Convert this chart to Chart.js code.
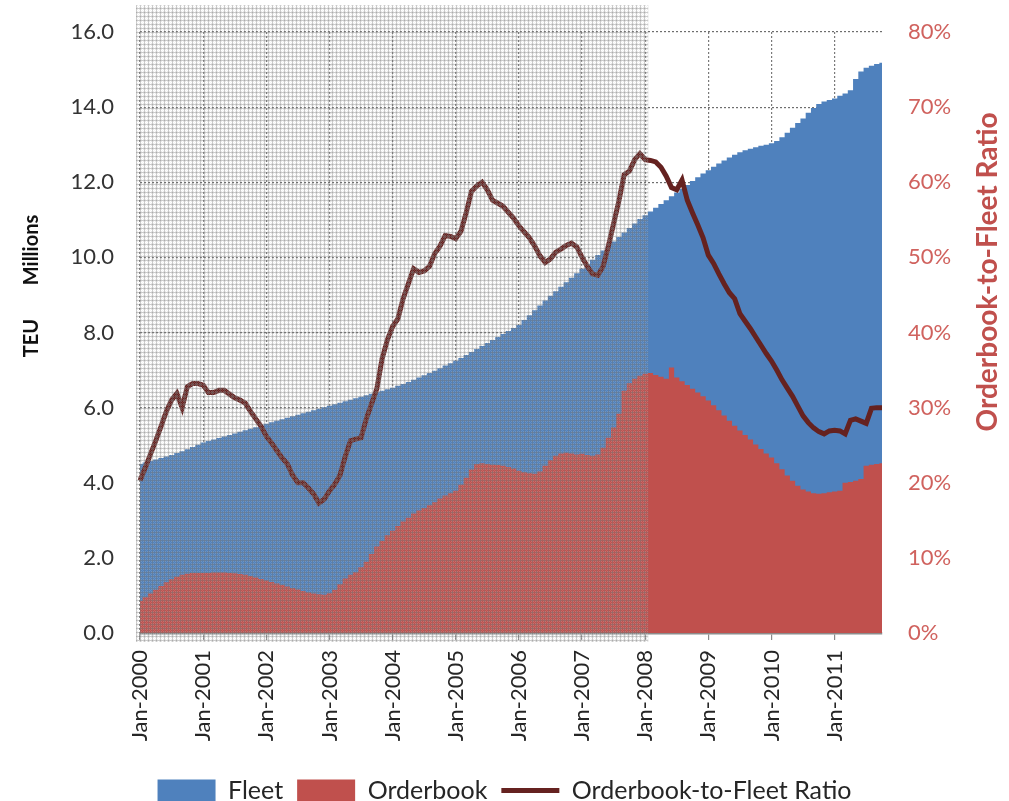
<!DOCTYPE html>
<html>
<head>
<meta charset="utf-8">
<script src="https://cdn.jsdelivr.net/npm/chart.js@4.4.1/dist/chart.umd.min.js"></script>
<style>
  html, body { margin: 0; padding: 0; background: #fff; }
  #myChart { display: block; }
</style>
</head>
<body>
<canvas id="myChart" width="1009" height="801"></canvas>
<script>
// monthly, Jan-2000 .. Oct-2011
const monthNames = ['Jan','Feb','Mar','Apr','May','Jun','Jul','Aug','Sep','Oct','Nov','Dec'];
const startYear = 2000;
const monthCount = 142;
const categories = [];
for (let i = 0; i < monthCount; i++) {
  categories.push(monthNames[i % 12] + '-' + (startYear + Math.floor(i / 12)));
}
const tickLabels = ['Jan-2000','Jan-2001','Jan-2002','Jan-2003','Jan-2004','Jan-2005',
  'Jan-2006','Jan-2007','Jan-2008','Jan-2009','Jan-2010','Jan-2011'];
const shadedUntil = 'Jan-2008';

// TEU millions
const fleet = [
  4.50, 4.54, 4.58, 4.62, 4.66, 4.70, 4.74, 4.79, 4.84, 4.89, 4.95, 5.01,
  5.07, 5.11, 5.15, 5.19, 5.23, 5.27, 5.31, 5.36, 5.40, 5.44, 5.48, 5.52,
  5.57, 5.61, 5.65, 5.69, 5.73, 5.77, 5.81, 5.85, 5.89, 5.93, 5.97, 6.01,
  6.05, 6.09, 6.13, 6.17, 6.21, 6.25, 6.29, 6.33, 6.37, 6.41, 6.45, 6.49,
  6.53, 6.58, 6.63, 6.68, 6.74, 6.80, 6.86, 6.92, 6.98, 7.05, 7.12, 7.18,
  7.25, 7.32, 7.40, 7.48, 7.56, 7.64, 7.72, 7.80, 7.88, 7.96, 8.04, 8.12,
  8.20, 8.33, 8.46, 8.59, 8.72, 8.85, 8.98, 9.10, 9.22, 9.34, 9.46, 9.58,
  9.70, 9.82, 9.94, 10.06, 10.18, 10.30, 10.42, 10.54, 10.66, 10.78, 10.90, 11.02,
  11.12, 11.22, 11.32, 11.42, 11.52, 11.63, 11.73, 11.83, 11.93, 12.03, 12.13, 12.23,
  12.32, 12.41, 12.50, 12.58, 12.66, 12.73, 12.80, 12.85, 12.89, 12.93, 12.97, 13.00,
  13.04, 13.10, 13.20, 13.32, 13.45, 13.58, 13.70, 13.85, 13.98, 14.08, 14.15, 14.19,
  14.23, 14.30, 14.36, 14.45, 14.75, 14.95, 15.05, 15.10, 15.15, 15.18
];
const orderbook = [
  0.85, 0.95, 1.05, 1.15, 1.25, 1.35, 1.43, 1.50, 1.55, 1.58, 1.60, 1.60,
  1.60, 1.60, 1.61, 1.61, 1.61, 1.60, 1.59, 1.57, 1.55, 1.52, 1.48, 1.44,
  1.40, 1.36, 1.32, 1.28, 1.24, 1.20, 1.16, 1.12, 1.08, 1.05, 1.03, 1.02,
  1.06, 1.15, 1.30, 1.45, 1.55, 1.62, 1.75, 1.90, 2.10, 2.30, 2.45, 2.60,
  2.72, 2.85, 2.97, 3.07, 3.18, 3.26, 3.33, 3.40, 3.48, 3.58, 3.66, 3.72,
  3.79, 3.95, 4.13, 4.35, 4.50, 4.52, 4.50, 4.48, 4.47, 4.45, 4.42, 4.38,
  4.32, 4.28, 4.25, 4.24, 4.30, 4.45, 4.60, 4.72, 4.78, 4.80, 4.78, 4.75,
  4.77, 4.74, 4.72, 4.75, 4.93, 5.20, 5.47, 5.84, 6.45, 6.65, 6.77, 6.85,
  6.90, 6.92, 6.87, 6.82, 6.77, 7.07, 6.80, 6.70, 6.60, 6.50, 6.40, 6.30,
  6.19, 6.06, 5.93, 5.79, 5.65, 5.52, 5.39, 5.27, 5.15, 5.02, 4.90, 4.78,
  4.67, 4.52, 4.36, 4.19, 4.05, 3.92, 3.82, 3.77, 3.72, 3.71, 3.72, 3.75,
  3.77, 3.79, 4.00, 4.02, 4.05, 4.10, 4.45, 4.48, 4.50, 4.52
];
// percent
const ratio = [
  20.3, 22.0, 23.8, 25.6, 27.5, 29.5, 31.0, 31.9, 30.0, 32.8, 33.2, 33.2,
  33.0, 32.0, 32.0, 32.3, 32.3, 31.8, 31.3, 31.0, 30.6, 29.5, 28.5, 27.5,
  26.2, 25.3, 24.3, 23.3, 22.5, 21.0, 20.0, 20.0, 19.3, 18.5, 17.3, 17.8,
  18.9, 19.8, 21.0, 23.5, 25.6, 25.8, 26.0, 28.5, 30.5, 32.5, 36.5, 39.0,
  40.8, 41.8, 44.5, 46.5, 48.5, 48.0, 48.2, 48.8, 50.5, 51.5, 52.9, 52.8,
  52.5, 53.5, 56.0, 58.8, 59.5, 60.0, 59.0, 57.6, 57.2, 56.8, 56.0, 55.2,
  54.2, 53.4, 52.6, 51.5, 50.2, 49.3, 49.8, 50.7, 51.1, 51.6, 51.9, 51.4,
  50.0, 48.8, 47.8, 47.6, 48.8, 51.5, 54.5, 57.5, 61.0, 61.5, 63.0, 63.8,
  63.0, 62.9, 62.7, 62.0, 60.8, 59.3, 59.0, 60.3, 57.6, 55.9, 54.3, 52.6,
  50.3, 49.2, 47.8, 46.5, 45.3, 44.5, 42.5, 41.5, 40.5, 39.4, 38.3, 37.2,
  36.2, 35.0, 33.7, 32.6, 31.5, 30.2, 28.9, 28.0, 27.3, 26.8, 26.5, 26.9,
  27.0, 26.9, 26.5, 28.3, 28.5, 28.2, 27.9, 29.9, 30.0, 30.0
];

const FONT = 'Lato, "Open Sans", sans-serif';

// grey hatch like the pasted overlay
const hatch = document.createElement('canvas');
hatch.width = 4; hatch.height = 4;
let hctx = hatch.getContext('2d');
hctx.fillStyle = 'rgba(190,190,190,0.32)';
hctx.fillRect(1, 1, 1, 1);
hctx.fillRect(3, 3, 1, 1);
hctx.fillRect(1, 3, 1, 1);
hctx.fillRect(3, 1, 1, 1);
hctx.fillStyle = 'rgba(205,205,205,0.18)';
hctx.fillRect(2, 2, 1, 1);
hctx.fillStyle = 'rgba(125,125,125,0.40)';
hctx.fillRect(0, 0, 4, 1);
hctx.fillRect(0, 0, 1, 4);

const extras = {
  id: 'extras',
  afterDatasetsDraw(chart) {
    const ctx = chart.ctx;
    const area = chart.chartArea;
    const xs = chart.scales.x;
    const right = xs.getPixelForValue(categories.indexOf(shadedUntil)) + 3;
    ctx.save();
    ctx.fillStyle = ctx.createPattern(hatch, 'repeat');
    ctx.fillRect(area.left - 4, 5, right - area.left + 4, area.bottom + 9 - 5);
    ctx.restore();
  },
  afterDraw(chart) {
    const ctx = chart.ctx;
    ctx.save();
    ctx.font = 'bold 20px ' + FONT;
    ctx.fillStyle = '#111';
    ctx.textAlign = 'center';
    ctx.textBaseline = 'middle';
    ctx.translate(32, 0);
    ctx.rotate(-Math.PI / 2);
    ctx.fillText('TEU', -338, 0);
    ctx.fillText('Millions', -250, 0);
    ctx.restore();

    ctx.save();
    ctx.font = 'bold 28px ' + FONT;
    ctx.fillStyle = '#c0504d';
    ctx.textAlign = 'center';
    ctx.textBaseline = 'middle';
    ctx.translate(988, 272);
    ctx.rotate(-Math.PI / 2);
    ctx.fillText('Orderbook-to-Fleet Ratio', 0, 0);
    ctx.restore();
  }
};

const isJan = (i) => tickLabels.includes(categories[i]);
const noPad = (s) => { s.paddingTop = 0; s.paddingBottom = 0; s.paddingLeft = 0; s.paddingRight = 0; };

new Chart(document.getElementById('myChart'), {
  type: 'line',
  data: {
    labels: categories,
    datasets: [
      {
        label: 'Fleet',
        data: fleet,
        yAxisID: 'y',
        backgroundColor: '#4f81bd',
        borderColor: '#4f81bd',
        borderWidth: 0,
        pointRadius: 0,
        pointStyle: 'rect',
        fill: 'origin',
        stepped: 'middle',
        order: 3
      },
      {
        label: 'Orderbook',
        data: orderbook,
        yAxisID: 'y',
        backgroundColor: '#c0504d',
        borderColor: '#c0504d',
        borderWidth: 0,
        pointRadius: 0,
        pointStyle: 'rect',
        fill: 'origin',
        stepped: 'middle',
        order: 2
      },
      {
        label: 'Orderbook-to-Fleet Ratio',
        data: ratio,
        yAxisID: 'y1',
        borderColor: '#652220',
        backgroundColor: '#652220',
        borderWidth: 5,
        pointRadius: 0,
        pointStyle: 'line',
        fill: false,
        tension: 0,
        order: 1
      }
    ]
  },
  options: {
    responsive: false,
    animation: false,
    layout: { padding: { top: 32, left: 0, right: 0, bottom: -12 } },
    plugins: {
      tooltip: { enabled: false },
      legend: {
        position: 'bottom',
        labels: {
          usePointStyle: true,
          pointStyleWidth: 58,
          boxHeight: 22,
          padding: 14,
          color: '#262626',
          font: { family: FONT, size: 25 },
          sort: (a, b) => a.datasetIndex - b.datasetIndex
        }
      }
    },
    scales: {
      x: {
        type: 'category',
        offset: false,
        afterFit: (s) => { s.height = 131; noPad(s); },
        grid: {
          color: (c) => (c.tick && isJan(c.index)) ? '#7a7a7a' : 'rgba(0,0,0,0)',
          tickColor: (c) => (c.tick && isJan(c.index)) ? '#8a8a8a' : 'rgba(0,0,0,0)',
          tickLength: 7,
          lineWidth: 1.2
        },
        border: { display: true, color: '#8c8c8c', width: 2.5, dash: [2, 2] },
        ticks: {
          autoSkip: false,
          minRotation: 90,
          maxRotation: 90,
          padding: 10,
          color: '#262626',
          font: { family: FONT, size: 22 },
          callback: (v, i) => isJan(i) ? categories[i] : ''
        }
      },
      y: {
        position: 'left',
        min: 0,
        max: 16,
        afterFit: (s) => { s.width = 140; noPad(s); },
        grid: { color: '#6e6e6e', lineWidth: 1.2, drawTicks: false },
        border: { display: false, dash: [2, 2] },
        ticks: {
          stepSize: 2,
          padding: 26,
          color: '#333',
          font: { family: FONT, size: 22 },
          callback: (v) => v.toFixed(1)
        }
      },
      y1: {
        position: 'right',
        min: 0,
        max: 80,
        afterFit: (s) => { s.width = 127; noPad(s); },
        grid: { drawOnChartArea: false, drawTicks: false },
        border: { display: false },
        ticks: {
          stepSize: 10,
          padding: 26,
          color: '#d0625e',
          font: { family: FONT, size: 22 },
          callback: (v) => v + '%'
        }
      }
    }
  },
  plugins: [extras]
});
</script>
</body>
</html>
